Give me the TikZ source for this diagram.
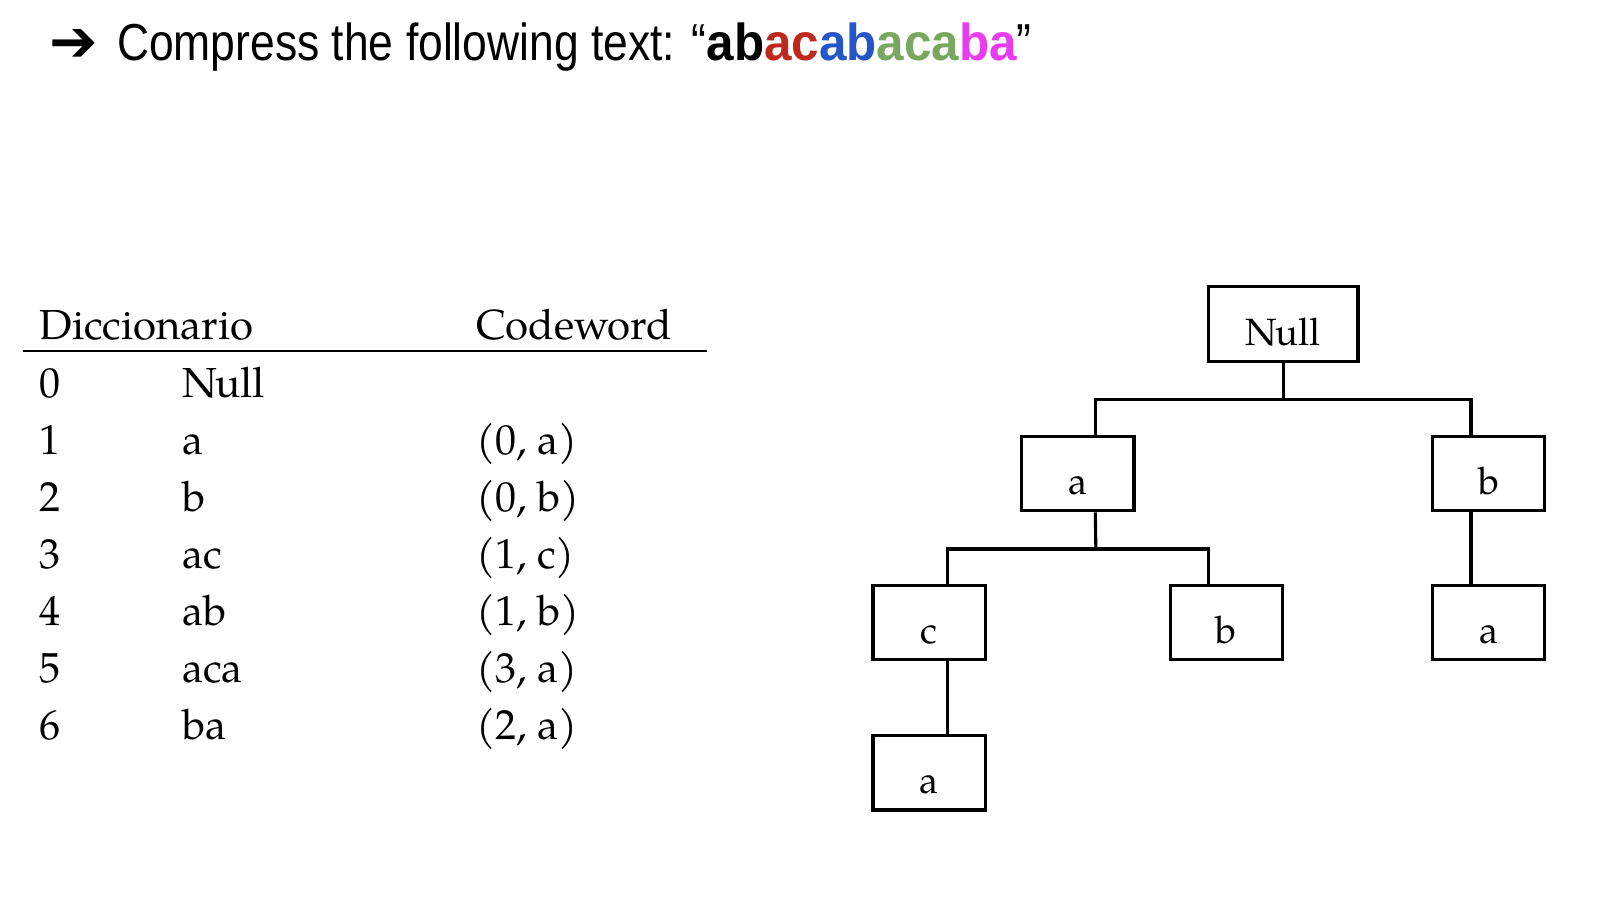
\documentclass[tikz,border=0pt]{standalone}
\usepackage{fontspec}
\newfontfamily\titlefont{Liberation Sans}
\newfontfamily\symfont{DejaVu Sans}
\newfontfamily\palfont{TeX Gyre Pagella}
\definecolor{cred}{RGB}{192,40,30}
\definecolor{cblue}{RGB}{37,86,200}
\definecolor{cgreen}{RGB}{120,168,96}
\definecolor{cmag}{RGB}{233,60,240}
\tikzset{
  tabtext/.style={anchor=base west, inner sep=0pt, font=\palfont\fontsize{21}{25}\selectfont},
  treebox/.style={draw, line width=1.55pt, inner sep=0pt, minimum width=56.2pt, minimum height=37.1pt,
    text height=21pt, text depth=0pt, font=\palfont\fontsize{19}{23}\selectfont},
  conn/.style={line width=1.55pt, line join=miter}
}
\begin{document}
\begin{tikzpicture}[x=0.516pt, y=-0.516pt]
\useasboundingbox (0,0) rectangle (1568,893.5);
% title
\node[anchor=base west, inner sep=0pt] (arrow) at (48,59.5) {\symfont\fontsize{29}{33}\selectfont ➔};
\node[anchor=base west, inner sep=0pt] (title) at (113,58.8) {\titlefont\fontsize{26}{30}\selectfont
  \scalebox{0.855}[1]{Compress the following text: “}\scalebox{0.95}[1]{\bfseries ab\textcolor{cred}{ac}\textcolor{cblue}{ab}\textcolor{cgreen}{aca}\textcolor{cmag}{ba}}\scalebox{0.855}[1]{”}};
% table
\node[tabtext] (h1) at (38,329) {Diccionario};
\node[tabtext] (h2) at (461,329) {Codeword};
\coordinate (rl) at (22,340);
\coordinate (rr) at (685,340);
\draw[line width=1pt] (rl) -- (rr);
\foreach \i/\w/\c [count=\k from 0] in {0/Null/, 1/a/{(0, a)}, 2/b/{(0, b)}, 3/ac/{(1, c)}, 4/ab/{(1, b)}, 5/aca/{(3, a)}, 6/ba/{(2, a)}}{
  \node[tabtext] (n\k) at (38,385+55.2*\k) {\i};
  \node[tabtext] (w\k) at (176,385+55.2*\k) {\w};
  \node[tabtext] (c\k) at (461,385+55.2*\k) {\c};
}
% tree
\node[treebox, minimum width=74.8pt] (null) at (1243.5,314) {Null};
\node[treebox] (a1) at (1044.5,459) {a};
\node[treebox] (b1) at (1442.5,459) {b};
\node[treebox] (c2) at (900.5,603) {c};
\node[treebox] (b2) at (1188.5,603) {b};
\node[treebox] (a2) at (1442.5,603) {a};
\node[treebox] (a3) at (900.5,749) {a};
\coordinate (j1) at (1243.5,387);
\coordinate (j2) at (1062,532);
\draw[conn] (null.south) -- (j1);
\draw[conn] ([xshift=8.75pt]a1.north) -- ([xshift=8.75pt]a1.north |- j1) -- ([xshift=-8.75pt]b1.north |- j1) -- ([xshift=-8.75pt]b1.north);
\draw[conn] ([xshift=8.75pt]a1.south) -- (j2);
\draw[conn] ([xshift=9pt]c2.north) -- ([xshift=9pt]c2.north |- j2) -- ([xshift=-9pt]b2.north |- j2) -- ([xshift=-9pt]b2.north);
\draw[conn] ([xshift=-8.75pt]b1.south) -- ([xshift=-8.75pt]a2.north);
\draw[conn] ([xshift=9pt]c2.south) -- ([xshift=9pt]a3.north);
\end{tikzpicture}
\end{document}
